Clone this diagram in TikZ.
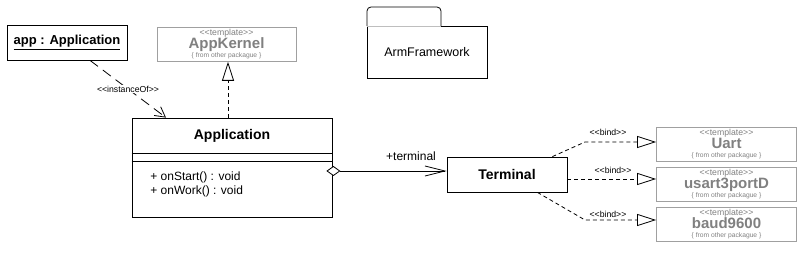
\documentclass[tikz,border=0pt]{standalone}
\usepackage{fontspec}
\setmainfont{Liberation Sans}[Ligatures=TeXOff]
\usetikzlibrary{arrows.meta}
\definecolor{tgray}{RGB}{128,128,128}
\definecolor{bgray}{RGB}{160,160,160}
\definecolor{lgray}{RGB}{190,190,190}
\newcommand\tmplnode[5]{%
  \node[tbox, minimum width=#4, minimum height=34pt, anchor=north] (#1) at (#2,#3) {};
  \node[stereo, text=tgray, anchor=base, text depth=0pt] (#1-st) at ([yshift=-8.3pt]#1.north) {<<template>>};
  \node[gname, anchor=base] (#1-nm) at ([yshift=-22pt]#1.north) {#5};
  \node[fromp, anchor=base] (#1-fr) at ([yshift=-30.5pt]#1.north) {\{ from other packague \}};
}
\begin{document}
\begin{tikzpicture}[x=1pt,y=-1pt,
  line width=0.8pt,
  box/.style={draw, line width=0.8pt, inner sep=0pt, fill=white},
  tbox/.style={draw=bgray, line width=0.8pt, inner sep=0pt},
  stereo/.style={font=\fontsize{8.7}{9}\selectfont, inner sep=0pt},
  gname/.style={font=\fontsize{15}{15}\selectfont\bfseries, text=tgray, inner sep=0pt, text depth=0pt, text height=10.8pt},
  fromp/.style={font=\fontsize{6.7}{7}\selectfont, text=tgray, inner sep=0pt, text height=4.8pt},
  cname/.style={font=\fontsize{14}{14}\selectfont\bfseries, inner sep=0pt},
  mtext/.style={font=\fontsize{12}{12}\selectfont, inner sep=0pt},
  dep/.style={dash pattern=on 4pt off 3pt},
  longdep/.style={dash pattern=on 10pt off 6pt},
  realtip/.style={-{Triangle[open,length=19pt,width=12pt]}},
  opentip/.style={-{Straight Barb[length=10pt,width=11pt]}}
]
\useasboundingbox (0,0) rectangle (809,261);

% app : Application object
\node[box, minimum width=120pt, minimum height=35pt] (obj) at (67,42.5) {};
\node[cname, font=\fontsize{13}{14}\selectfont\bfseries] (objtxt) at (obj.center) {\underline{app : Application}};

% AppKernel template
\tmplnode{kernel}{226.5}{27}{139pt}{AppKernel}

% Application class
\node[box, minimum width=200pt, minimum height=99pt] (appcls) at (232,167.5) {};
\draw (appcls.west |- 0,153) coordinate (l1a) -- (appcls.east |- 0,153) coordinate (l1b);
\draw (appcls.west |- 0,161) coordinate (l2a) -- (appcls.east |- 0,161) coordinate (l2b);
\node[cname, anchor=base] (appname) at (232,139.5) {Application};
\node[mtext, anchor=base west] (m1) at (150,180.5) {+ onStart() : void};
\node[mtext, anchor=base west] (m2) at (150,194.5) {+ onWork() : void};

% Package ArmFramework
\draw (367,26) [rounded corners=4pt] |- (441,7) -- (441,26);
\draw (441,26) -- (487,26) -- (487,78) -- (367,78) -- (367,26);
\draw[lgray] (367,26) -- (441,26);
\node[mtext, font=\fontsize{12.5}{13}\selectfont] (pkg) at (427,52) {ArmFramework};

% Terminal class
\node[box, minimum width=120pt, minimum height=35pt] (term) at (507,174.5) {};
\node[cname] (termtxt) at (term.center) {Terminal};

% Template boxes on the right
\tmplnode{uart}{726.5}{127}{140pt}{Uart}
\tmplnode{usart}{726.5}{167}{140pt}{usart3portD}
\tmplnode{baud}{726.5}{207}{140pt}{baud9600}

% instanceOf dependency
\draw[longdep, opentip] ([xshift=23pt]obj.south) -- node[stereo, fill=white, inner sep=1pt] (instlbl) {<<instanceOf>>} ([xshift=-66pt]appcls.north);

% realization to AppKernel
\draw[dep, realtip] ([xshift=-4pt]appcls.north) -- ([xshift=-4pt]appcls.north |- kernel.south);

% aggregation to Terminal
\draw[{Diamond[fill=white,length=14pt,width=10pt]}-{Straight Barb[length=20pt,width=10pt]}]
  ([shift={(-6,3.5)}]appcls.east) -- ([yshift=3.5pt]term.west);
\node[mtext] (rolelbl) at (411,156) {+terminal};

% bind dependencies
\coordinate (b1) at (585,142);
\coordinate (b3) at (585,220);
\draw[dep, realtip] ([xshift=-15pt]term.north east) -- (b1) -- (b1 -| uart.west);
\draw[dep, realtip] ([yshift=-4.5pt]term.east) -- ([yshift=-4.5pt]term.east -| usart.west);
\draw[dep, realtip] ([xshift=-30pt]term.south east) -- (b3) -- (b3 -| baud.west);
\node[stereo] (bind1) at (608,132) {<<bind>>};
\node[stereo] (bind2) at (613,170) {<<bind>>};
\node[stereo] (bind3) at (608,214) {<<bind>>};
\end{tikzpicture}
\end{document}
